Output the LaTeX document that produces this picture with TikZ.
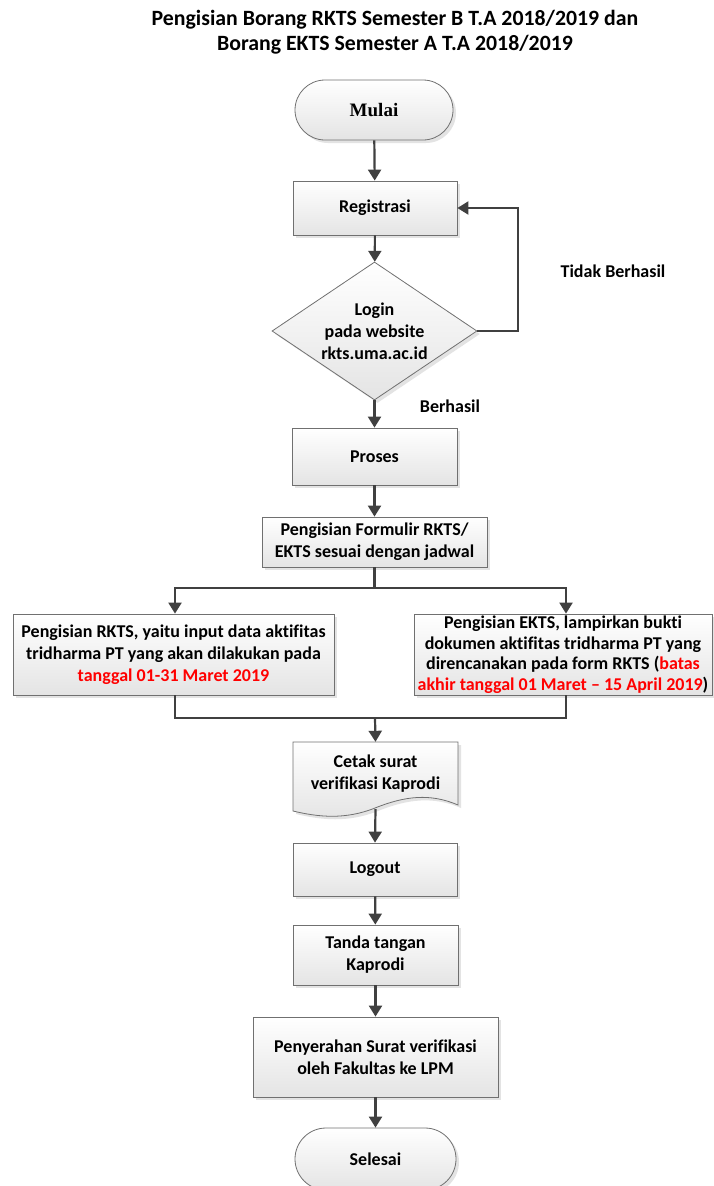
\documentclass[tikz,border=0pt]{standalone}
\usepackage{fontspec}
\setmainfont{Carlito}[Ligatures=NoCommon]
\newfontfamily\serifbold{Liberation Serif}
\usetikzlibrary{shapes.geometric,shapes.misc,shadows,arrows.meta,calc}
\definecolor{edge}{RGB}{112,112,112}
\definecolor{wire}{RGB}{64,64,64}
\definecolor{shade}{RGB}{228,228,228}
\definecolor{alert}{RGB}{255,0,0}
\tikzset{
  boxfont/.style={font=\fontsize{18}{22}\selectfont\bfseries},
  boxbase/.style={draw=edge, line width=0.8pt, top color=white, bottom color=shade,
    drop shadow={shadow xshift=3pt, shadow yshift=-3pt, opacity=0.18, fill=black!60},
    boxfont, align=center, inner sep=2pt},
  procbox/.style={boxbase, rectangle},
  termbox/.style={boxbase, rounded rectangle, rounded rectangle arc length=180},
  decbox/.style={boxbase, diamond, aspect=1.49, inner sep=0pt},
  txtnode/.style={boxfont, align=center, inner sep=1pt},
  flow/.style={draw=wire, line width=2.2pt, -{Triangle[width=13pt,length=11pt]}},
  plain/.style={draw=wire, line width=2.2pt},
}
\begin{document}
\begin{tikzpicture}[x=1pt,y=-1pt]
\useasboundingbox (0,0) rectangle (713,1186);

% title
\node[font=\fontsize{21.8}{24.5}\selectfont\bfseries, align=center] (title) at (395,32)
  {Pengisian Borang RKTS Semester B T.A 2018/2019 dan\\Borang EKTS Semester A T.A 2018/2019};

% main column
\node[termbox, minimum width=162pt, minimum height=60pt, font=\fontsize{19}{22}\serifbold\bfseries] (mulai) at (374,110) {Mulai};
\node[procbox, minimum width=164pt, minimum height=54pt] (reg) at (375,208) {Registrasi};
\node[decbox, minimum width=205pt, minimum height=138pt] (login) at (374.5,331) {Login\\pada website\\rkts.uma.ac.id};
\node[procbox, minimum width=165pt, minimum height=57pt] (proses) at (374.5,456.5) {Proses};
\node[procbox, minimum width=225pt, minimum height=50pt] (form) at (374.5,542) {Pengisian Formulir RKTS/\\EKTS sesuai dengan jadwal};

\node[procbox, minimum width=321pt, minimum height=81pt] (rkts) at (173.5,654.5)
  {Pengisian RKTS, yaitu input data aktifitas\\tridharma PT yang akan dilakukan pada\\\textcolor{alert}{tanggal 01-31 Maret 2019}};
\node[procbox, minimum width=298pt, minimum height=81pt, inner sep=0pt,
  font=\fontsize{18}{20.5}\selectfont\bfseries] (ekts) at (563,654.5)
  {Pengisian EKTS, lampirkan bukti\\dokumen aktifitas tridharma PT yang\\direncanakan pada form RKTS (\textcolor{alert}{batas}\\\textcolor{alert}{akhir tanggal 01 Maret – 15 April 2019})};

% document shape for the printed letter
\path[draw=edge, line width=0.8pt, top color=white, bottom color=shade,
  drop shadow={shadow xshift=3pt, shadow yshift=-3pt, opacity=0.18, fill=black!60}]
  (293,742) -- (458,742) -- (458,805)
  .. controls (430,793) and (405,796) .. (375,808)
  .. controls (345,820) and (318,817) .. (293,811) -- cycle;
\node[txtnode, minimum width=165pt, minimum height=64pt] (cetak) at (375.5,774) {Cetak surat\\verifikasi Kaprodi};
\coordinate (cetakb) at (375.5,809);

\node[procbox, minimum width=164pt, minimum height=53pt] (logout) at (375,869.5) {Logout};
\node[procbox, minimum width=165pt, minimum height=60pt] (ttd) at (375.5,955) {Tanda tangan\\Kaprodi};
\node[procbox, minimum width=245pt, minimum height=80pt] (serah) at (375.5,1057) {Penyerahan Surat verifikasi\\oleh Fakultas ke LPM};
\node[termbox, minimum width=165pt, minimum height=62pt] (selesai) at (375.5,1159) {Selesai};

% labels
\node[txtnode] (lblno) at (613,271) {Tidak Berhasil};
\node[txtnode] (lblyes) at (450,406) {Berhasil};

% connectors
\draw[flow] (mulai) -- (reg);
\draw[flow] (reg) -- (login);
\coordinate (loopc) at (518,331);
\draw[flow] (login.east) -- (loopc) |- (reg.east);
\draw[flow] (login) -- (proses);
\draw[flow] (proses) -- (form);

\coordinate (split) at (374.5,588);
\draw[plain] (form.south) -- (split);
\draw[flow] (split) -| (rkts.north -| 175,0);
\draw[flow] (split) -| (ekts.north -| 566,0);

\coordinate (merge) at (375,718);
\draw[plain] (rkts.south -| 175,0) |- (merge);
\draw[plain] (ekts.south -| 566,0) |- (merge);
\draw[flow] (merge) -- (cetak.north);

\draw[flow] (cetakb) -- (logout.north);
\draw[flow] (logout) -- (ttd);
\draw[flow] (ttd) -- (serah);
\draw[flow] (serah) -- (selesai);
\end{tikzpicture}
\end{document}
